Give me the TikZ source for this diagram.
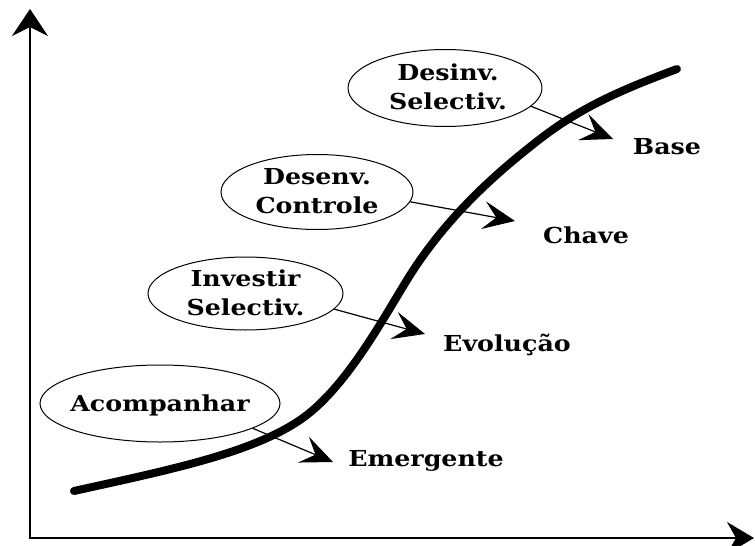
\documentclass[tikz,border=0pt]{standalone}
\usepackage{fontspec}
\setmainfont{DejaVu Serif}[FakeStretch=1.15]
\usetikzlibrary{arrows.meta,shapes.geometric}
\begin{document}
\begin{tikzpicture}[x=1pt,y=-1pt,
  lab/.style={font=\fontsize{22}{29}\selectfont\bfseries, inner sep=0pt, align=center},
  oval/.style={ellipse, draw, line width=1pt, inner sep=0pt},
  axisline/.style={line width=1.4pt, {Stealth[length=27pt,width=36pt,inset=9pt]}-{Stealth[length=27pt,width=32pt,inset=9pt]}},
  arr/.style={line width=1.2pt, -{Stealth[length=32pt,width=28pt,inset=13pt]}},
  scurve/.style={line width=8pt, line cap=round, line join=round}]
\useasboundingbox (0,0) rectangle (755,546);
% axes
\coordinate (ytip) at (30,9);
\coordinate (O) at (30,538);
\coordinate (xtip) at (754,538);
\draw[axisline] (ytip) -- (O) -- (xtip);
% S curve
\coordinate (c0) at (74,491);
\coordinate (c1) at (300,420);
\coordinate (c2) at (407,280);
\coordinate (c3) at (540,139);
\coordinate (c4) at (677,69);
\draw[scurve] (c0) .. controls (164,471) and (250,454) .. (c1)
  .. controls (345,389.4) and (382,320.5) .. (c2)
  .. controls (447,215) and (500,170) .. (c3)
  .. controls (585,104) and (632,86) .. (c4);
% ellipses
\node[oval, minimum width=194pt, minimum height=77pt] (e1) at (445,88) {};
\node[lab] (t1) at (448,87) {Desinv.\\Selectiv.};
\node[oval, minimum width=192pt, minimum height=75pt] (e2) at (317,192) {};
\node[lab] (t2) at (317,191) {Desenv.\\Controle};
\node[oval, minimum width=195pt, minimum height=73pt] (e3) at (245.5,293.5) {};
\node[lab] (t3) at (245.5,293) {Investir\\Selectiv.};
\node[oval, minimum width=240pt, minimum height=77pt] (e4) at (160,403.5) {};
\node[lab] (t4) at (160,405) {Acompanhar};
% labels
\node[lab] (l1) at (667,147) {Base};
\node[lab] (l2) at (586,235) {Chave};
\node[lab] (l3) at (507,345) {Evolução};
\node[lab] (l4) at (426,461) {Emergente};
% arrow ends
\coordinate (a1) at (613,139);
\coordinate (a2) at (515,221);
\coordinate (a3) at (425,334);
\coordinate (a4) at (333,462);
\draw[arr] (e1.-12) -- (a1);
\draw[arr] (e2.-6) -- (a2);
\draw[arr] (e3.-10) -- (a3);
\draw[arr] (e4.-15) -- (a4);
\end{tikzpicture}
\end{document}
